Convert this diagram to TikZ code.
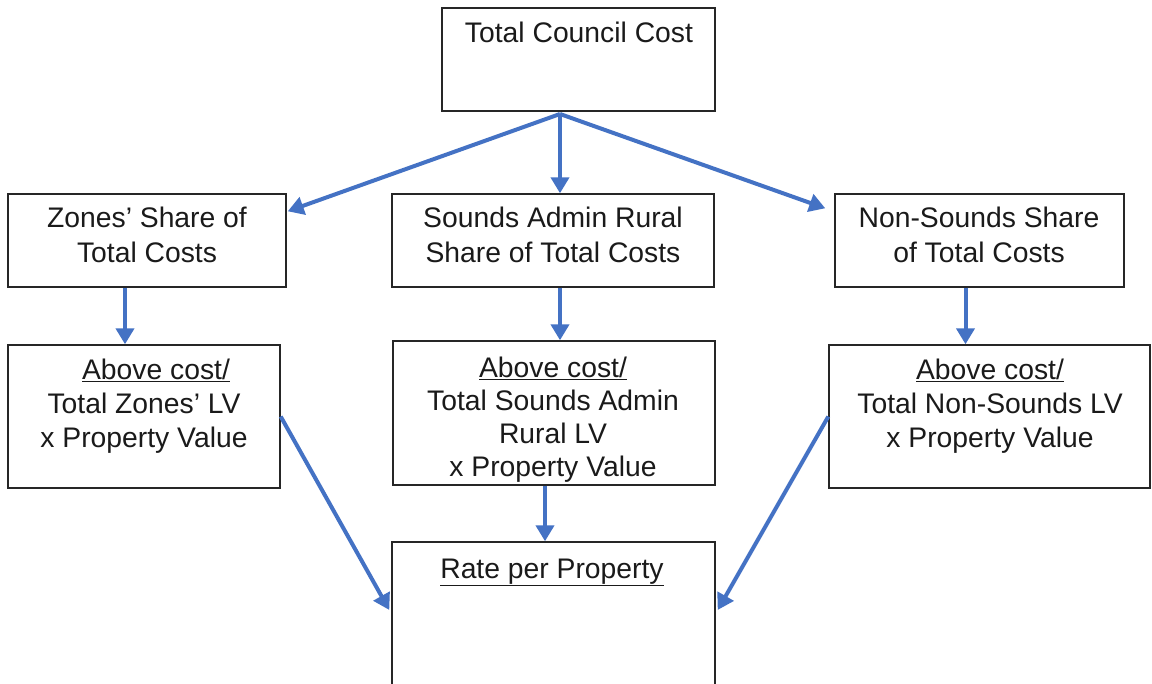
\documentclass[tikz,border=0pt]{standalone}
\usepackage{fontspec}
\setmainfont{Liberation Sans}
\usetikzlibrary{arrows.meta,calc}
\definecolor{arrblue}{HTML}{4472C4}
\definecolor{boxline}{HTML}{262626}
\definecolor{txt}{HTML}{1A1A1A}
\tikzset{
  box/.style={draw=boxline, line width=1.4pt, inner sep=0pt, fill=none},
  lbl/.style={anchor=base, align=center, inner sep=0pt, text=txt, font=\fontsize{28.3}{35}\selectfont},
  arr/.style={draw=arrblue, line width=4pt, -{Triangle[length=16pt,width=18pt]}}
}
\begin{document}
\begin{tikzpicture}[x=1pt,y=-1pt]
\useasboundingbox (0,0) rectangle (1152,684);
% boxes
\node[box, minimum width=273pt, minimum height=103pt] (top) at (578.5,59.5) {};
\node[box, minimum width=278pt, minimum height=93pt] (zs) at (147,240.5) {};
\node[box, minimum width=322pt, minimum height=93pt] (sr) at (553,240.5) {};
\node[box, minimum width=289pt, minimum height=93pt] (ns) at (979.5,240.5) {};
\node[box, minimum width=272pt, minimum height=143pt] (za) at (144,416.5) {};
\node[box, minimum width=322pt, minimum height=144pt] (sa) at (554,413) {};
\node[box, minimum width=321pt, minimum height=143pt] (na) at (989.5,416.5) {};
\node[box, minimum width=323pt, minimum height=178pt] (rate) at (553.5,631) {};
% texts (anchor = baseline of last line)
\node[lbl] (ttop) at (579,43) {Total Council Cost};
\node[lbl] (tzs) at (147,263) {Zones’ Share of\\Total Costs};
\node[lbl] (tsr) at (553,263) {Sounds Admin Rural\\Share of Total Costs};
\node[lbl] (tns) at (979,263) {Non-Sounds Share\\of Total Costs};
\node[lbl, font=\fontsize{28.3}{34}\selectfont] (tza) at (144,448) {\hspace*{24pt}\underline{Above cost/}\\Total Zones’ LV\\x Property Value};
\node[lbl, font=\fontsize{28.3}{33.3}\selectfont] (tsa) at (553,477) {\underline{Above cost/}\\Total Sounds Admin\\Rural LV\\x Property Value};
\node[lbl, font=\fontsize{28.3}{34}\selectfont] (tna) at (990,448) {\underline{Above cost/}\\Total Non-Sounds LV\\x Property Value};
\node[lbl] (trate) at (552,578) {\underline{Rate per Property}};
% connectors
\coordinate (fork) at (560,114);
\draw[arr] (fork) -- ([xshift=1pt,yshift=-18pt]zs.north east);
\draw[arr] (fork) -- (fork |- sr.north);
\draw[arr] (fork) -- ([xshift=-9pt,yshift=-15pt]ns.north west);
\draw[arr] ([xshift=-22pt]zs.south) -- ([xshift=-22pt]zs.south |- za.north);
\draw[arr] (fork |- sr.south) -- (fork |- sa.north);
\draw[arr] ([xshift=-14pt]ns.south) -- ([xshift=-14pt]ns.south |- na.north);
\draw[arr] ([xshift=-9pt]sa.south) -- ([xshift=-9pt]sa.south |- rate.north);
\draw[arr] (za.east) -- ([xshift=-2pt,yshift=21pt]rate.west);
\draw[arr] (na.west) -- ([xshift=2pt,yshift=21pt]rate.east);
\end{tikzpicture}
\end{document}
